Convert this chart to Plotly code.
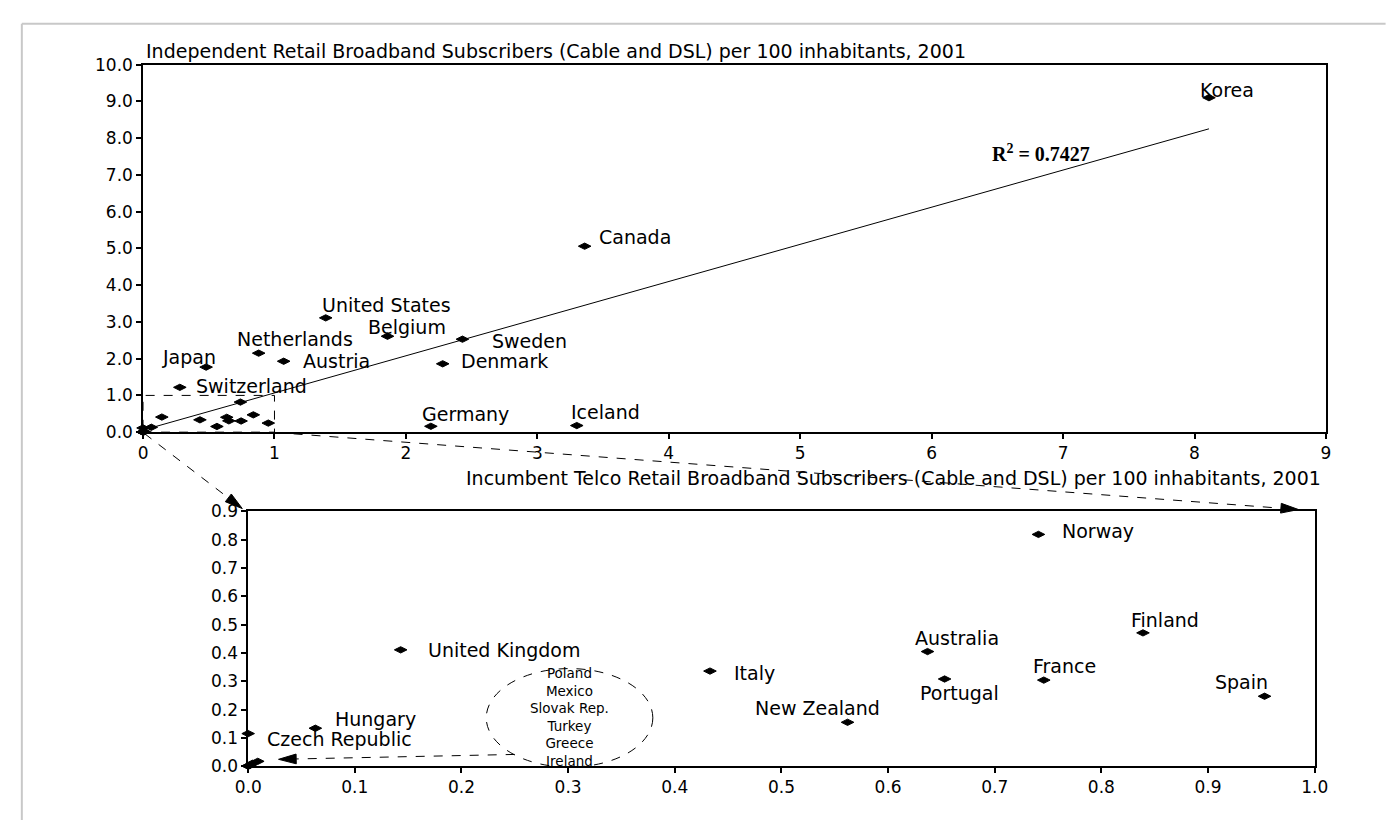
import numpy as np
import plotly.graph_objects as go

W, H = 1386, 822

# ---------------- data ----------------
countries = ["Korea", "Canada", "United States", "Belgium", "Sweden", "Netherlands",
             "Austria", "Japan", "Denmark", "Switzerland", "Germany", "Iceland",
             "Norway", "Finland", "Spain", "France", "Portugal", "Australia",
             "New Zealand", "Italy", "United Kingdom", "Hungary", "Czech Republic",
             "Poland", "Mexico", "Slovak Rep.", "Turkey", "Greece", "Ireland"]
incumbent = [8.11, 3.36, 1.39, 1.86, 2.43, 0.88,
             1.07, 0.48, 2.28, 0.28, 2.19, 3.30,
             0.741, 0.839, 0.953, 0.746, 0.653, 0.637,
             0.562, 0.433, 0.143, 0.063, 0.0,
             0.004, 0.002, 0.0, 0.001, 0.0, 0.009]
independent = [9.10, 5.06, 3.11, 2.61, 2.53, 2.15,
               1.93, 1.77, 1.86, 1.22, 0.16, 0.18,
               0.819, 0.471, 0.247, 0.304, 0.308, 0.405,
               0.155, 0.336, 0.411, 0.134, 0.115,
               0.010, 0.004, 0.0, 0.002, 0.001, 0.017]
grouped_countries = ["Poland", "Mexico", "Slovak Rep.", "Turkey", "Greece", "Ireland"]

top_x_ticks = [0, 1, 2, 3, 4, 5, 6, 7, 8, 9]
top_y_ticks = [0, 1, 2, 3, 4, 5, 6, 7, 8, 9, 10]
bottom_x_ticks = [0.0, 0.1, 0.2, 0.3, 0.4, 0.5, 0.6, 0.7, 0.8, 0.9, 1.0]
bottom_y_ticks = [0.0, 0.1, 0.2, 0.3, 0.4, 0.5, 0.6, 0.7, 0.8, 0.9]

title_top = "Independent Retail Broadband Subscribers (Cable and DSL) per 100 inhabitants, 2001"
title_x = "Incumbent Telco Retail Broadband Subscribers (Cable and DSL) per 100 inhabitants, 2001"
r2_text = "R<sup>2</sup> = 0.7427"

zoom_x_max, zoom_y_max = 1.0, 0.9   # region shown in the lower chart
box_x_max, box_y_max = 1.0, 1.0     # dashed box in the upper chart

# ---------------- label placement (pixels: anchor, dx, dy-down) ----------------
top_label_pos = {
    "Korea": ("center", 18, -8), "Canada": ("left", 12, -9),
    "United States": ("center", 61, -13), "Belgium": ("center", 19, -9),
    "Sweden": ("left", 28, 2), "Netherlands": ("center", 36, -14),
    "Austria": ("left", 17, 0), "Japan": ("center", -17, -10),
    "Denmark": ("left", 16, -3), "Switzerland": ("left", 14, -1),
    "Germany": ("center", 35, -12), "Iceland": ("center", 29, -14),
}
bottom_label_pos = {
    "Norway": ("left", 22, -3), "Finland": ("center", 22, -13),
    "Spain": ("center", -23, -14), "France": ("center", 21, -14),
    "Portugal": ("center", 15, 14), "Australia": ("center", 29, -14),
    "Italy": ("left", 22, 2), "New Zealand": ("center", -30, -14),
    "United Kingdom": ("left", 25, 0), "Hungary": ("left", 18, -9),
    "Czech Republic": ("left", 17, 5),
}

FONT = "DejaVu Sans"
FS = 19
TICK_FS = 17


def P(xp, yp):
    return xp / W, 1 - yp / H


fig = go.Figure()

marker = dict(symbol="diamond-wide", size=9, color="black", line=dict(color="black", width=1))

# upper chart: all countries
fig.add_trace(go.Scatter(x=incumbent, y=independent, mode="markers", marker=marker,
                         xaxis="x", yaxis="y", cliponaxis=False, hoverinfo="text",
                         text=countries))

# linear trend line (least squares through all countries)
slope, intercept = np.polyfit(np.array(incumbent), np.array(independent), 1)
tx = np.array([min(incumbent), max(incumbent)])
fig.add_trace(go.Scatter(x=tx, y=slope * tx + intercept, mode="lines",
                         line=dict(color="black", width=1), xaxis="x", yaxis="y",
                         hoverinfo="skip"))

# lower chart: countries inside the zoom window
zx, zy, zn = [], [], []
for c, a, b in zip(countries, incumbent, independent):
    if a <= zoom_x_max and b <= zoom_y_max:
        zx.append(a); zy.append(b); zn.append(c)
fig.add_trace(go.Scatter(x=zx, y=zy, mode="markers", marker=marker,
                         xaxis="x2", yaxis="y2", cliponaxis=False, hoverinfo="text",
                         text=zn))

annotations = []
for c, a, b in zip(countries, incumbent, independent):
    if c in top_label_pos:
        anc, dx, dy = top_label_pos[c]
        annotations.append(dict(x=a, y=b, xref="x", yref="y", text=c, showarrow=False,
                                xanchor=anc, align=anc, yanchor="middle",
                                xshift=dx, yshift=-dy))
    if c in bottom_label_pos:
        anc, dx, dy = bottom_label_pos[c]
        annotations.append(dict(x=a, y=b, xref="x2", yref="y2", text=c, showarrow=False,
                                xanchor=anc, align=anc, yanchor="middle",
                                xshift=dx, yshift=-dy))

# grouped names inside the dashed ellipse
x_, y_ = P(567, 725)
annotations.append(dict(x=x_, y=y_, xref="paper", yref="paper",
                        text="<br>".join(grouped_countries), showarrow=False,
                        xanchor="center", yanchor="middle", align="center",
                        font=dict(family=FONT, size=13.5)))

# titles
x_, y_ = P(133, 42)
annotations.append(dict(x=x_, y=y_, xref="paper", yref="paper", text=title_top,
                        showarrow=False, xanchor="left", yanchor="middle"))
x_, y_ = P(1336, 480)
annotations.append(dict(x=x_, y=y_, xref="paper", yref="paper", text=title_x,
                        showarrow=False, xanchor="right", yanchor="middle"))
# R^2
x_, y_ = P(1048, 147)
annotations.append(dict(x=x_, y=y_, xref="paper", yref="paper", text="<b>" + r2_text + "</b>",
                        showarrow=False, xanchor="center", yanchor="middle",
                        font=dict(family="Liberation Serif", size=20, color="black")))

shapes = []
dash_line = dict(color="black", width=1, dash="dash")


def pp(pt):
    x, y = P(*pt)
    return f"{x:.6f},{y:.6f}"


def connector(tail, tip, L=18, w=10):
    vx, vy = tip[0] - tail[0], tip[1] - tail[1]
    n = (vx ** 2 + vy ** 2) ** 0.5
    ux, uy = vx / n, vy / n
    bx, by = tip[0] - ux * L, tip[1] - uy * L
    nx, ny = -uy, ux
    p2 = (bx + nx * w / 2, by + ny * w / 2)
    p3 = (bx - nx * w / 2, by - ny * w / 2)
    x0, y0 = P(*tail)
    x1, y1 = P(bx, by)
    line = dict(type="line", xref="paper", yref="paper", x0=x0, y0=y0, x1=x1, y1=y1,
                line=dash_line)
    head = dict(type="path", xref="paper", yref="paper",
                path=f"M{pp(tip)} L{pp(p2)} L{pp(p3)} Z",
                fillcolor="black", line=dict(color="black", width=1))
    return [line, head]


for tail, tip in [((133, 434), (233, 511)), ((267, 433), (1311, 512)), ((511, 763), (270, 768))]:
    shapes.extend(connector(tail, tip))

# dashed box in upper chart
shapes.append(dict(type="rect", xref="x", yref="y", x0=0, y0=0, x1=box_x_max, y1=box_y_max,
                   line=dash_line))
# dashed ellipse
x0, y0 = P(482, 776)
x1, y1 = P(652, 675)
shapes.append(dict(type="circle", xref="paper", yref="paper", x0=x0, y0=y0, x1=x1, y1=y1,
                   line=dict(color="black", width=1, dash="dash")))
# light frame
fx, fy = P(8, 14)
shapes.append(dict(type="line", xref="paper", yref="paper", x0=fx, y0=fy, x1=1.01, y1=fy,
                   line=dict(color="#c8c8c8", width=2)))
shapes.append(dict(type="line", xref="paper", yref="paper", x0=fx, y0=fy, x1=fx, y1=-0.01,
                   line=dict(color="#c8c8c8", width=2)))

axis_common = dict(showline=True, mirror=True, linecolor="black", linewidth=1.5,
                   ticks="outside", ticklen=5, tickcolor="black", tickwidth=1.5,
                   showgrid=False, zeroline=False, fixedrange=True,
                   tickfont=dict(family=FONT, size=TICK_FS, color="black"))

fig.update_layout(
    width=W, height=H, margin=dict(l=0, r=0, t=0, b=0),
    paper_bgcolor="white", plot_bgcolor="white", showlegend=False,
    font=dict(family=FONT, size=FS, color="black"),
    xaxis=dict(domain=[131.7 / W, 1339 / W], range=[0, 9], tickvals=top_x_ticks,
               anchor="y", **axis_common),
    yaxis=dict(domain=[1 - 432.7 / H, 1 - 56 / H], range=[0, 10], tickvals=top_y_ticks,
               tickformat=".1f", anchor="x", **axis_common),
    xaxis2=dict(domain=[239 / W, 1327.5 / W], range=[0, 1], tickvals=bottom_x_ticks,
                tickformat=".1f", anchor="y2", **axis_common),
    yaxis2=dict(domain=[1 - 775 / H, 1 - 514 / H], range=[0, 0.9], tickvals=bottom_y_ticks,
                tickformat=".1f", anchor="x2", **axis_common),
    annotations=annotations, shapes=shapes,
)

fig.write_html("out.html", config={"displayModeBar": False},
               post_script="document.body.style.margin='0';document.body.style.overflow='hidden';")
